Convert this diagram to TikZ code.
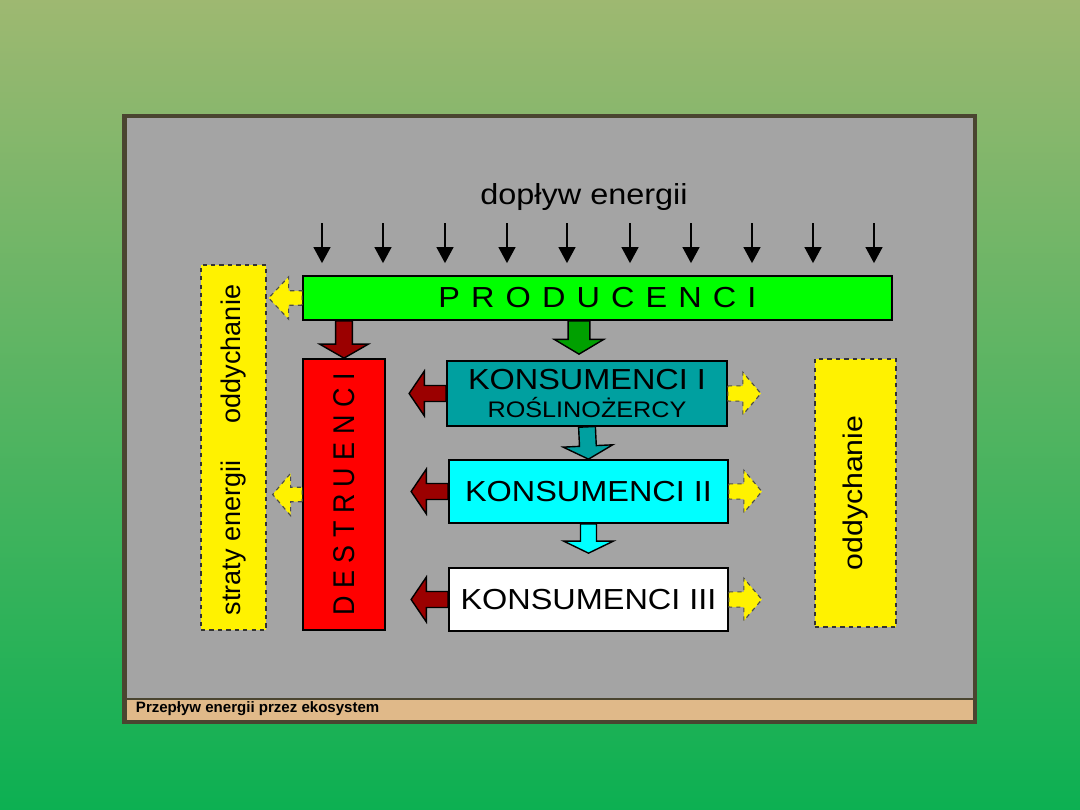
\documentclass[tikz,border=0pt]{standalone}
\usepackage{fontspec}
\setmainfont{Liberation Sans}[FakeStretch=1.12]
\newfontfamily\plainsans{Liberation Sans}
\newfontfamily\narrowsans{Liberation Sans}[FakeStretch=0.9]
\usetikzlibrary{arrows.meta, positioning, calc}
\definecolor{bgtop}{RGB}{158,184,113}
\definecolor{bgbottom}{RGB}{12,176,82}
\definecolor{frame}{RGB}{74,69,48}
\definecolor{panel}{RGB}{164,164,164}
\definecolor{captionbar}{RGB}{224,185,137}
\definecolor{prodgreen}{RGB}{0,255,0}
\definecolor{feedgreen}{RGB}{0,160,0}
\definecolor{herbteal}{RGB}{0,160,160}
\definecolor{carncyan}{RGB}{0,255,255}
\definecolor{decayred}{RGB}{155,0,0}

\tikzset{
  box/.style={draw=black, line width=1.2pt, inner sep=0pt, font=\fontsize{20.6}{24}\selectfont},
  lossbox/.style={fill=yellow, draw=black!80, dashed, line width=0.9pt, inner sep=0pt},
  sidetext/.style={rotate=90, inner sep=0pt, font=\plainsans\fontsize{19.2}{22}\selectfont},
  inflow/.style={-{Triangle[width=0.42cm, length=0.4cm]}, line width=1.3pt},
  blockarrow/.style n args={3}{to path={
    ($(\tikztostart)!#1!90:(\tikztotarget)$)
    -- ($($(\tikztotarget)!#3!(\tikztostart)$)!#1!-90:(\tikztostart)$)
    -- ($($(\tikztotarget)!#3!(\tikztostart)$)!#2!-90:(\tikztostart)$)
    -- (\tikztotarget)
    -- ($($(\tikztotarget)!#3!(\tikztostart)$)!#2!90:(\tikztostart)$)
    -- ($($(\tikztotarget)!#3!(\tikztostart)$)!#1!90:(\tikztostart)$)
    -- ($(\tikztostart)!#1!-90:(\tikztotarget)$)
    -- cycle}},
  feedarrow/.style={draw=black, line width=1pt},
  heatarrow/.style={fill=yellow, draw=black!70, dashed, line width=0.8pt}
}

\begin{document}
\begin{tikzpicture}[x=0.025cm, y=-0.025cm]
  \useasboundingbox (0,0) rectangle (1080,810);

  % slide background and panel
  \shade[top color=bgtop, bottom color=bgbottom] (0,0) rectangle (1080,810);
  \draw[frame, line width=0.11cm, fill=panel] (124.5,116) rectangle (975,722);
  \fill[captionbar] (127,699) rectangle (972.5,719.5);
  \draw[frame, line width=0.8pt] (127,699) -- (972.5,699);
  \node[anchor=west, font=\plainsans\bfseries\fontsize{10.7}{12}\selectfont] (caption) at (131,709) {Przepływ energii przez ekosystem};

  % energy input
  \node[font=\fontsize{20.6}{23}\selectfont] (inflowlabel) at (584,197) {dopływ energii};

  % levels
  \node[box, fill=prodgreen, minimum width=14.725cm, minimum height=1.1cm] (prod) at (597.5,298) {\spaceskip=7.9pt P R O D U C E N C I};
  \node[box, fill=red, minimum width=2.05cm, minimum height=6.775cm] (dest) at (344,494.5) {};
  \node[rotate=90, font=\narrowsans\fontsize{21.3}{24}\selectfont] (destlabel) at (dest.center) {D E S T R U E N C I};
  \node[box, fill=herbteal, minimum width=7cm, minimum height=1.625cm, align=center, font=\fontsize{20.6}{20.6}\selectfont] (kons1) at (587,393.5) {KONSUMENCI I\\{\fontsize{16}{20.6}\selectfont ROŚLINOŻERCY}};
  \node[box, fill=carncyan, minimum width=6.975cm, minimum height=1.575cm] (kons2) at (588.5,491.5) {KONSUMENCI II};
  \node[box, fill=white, minimum width=6.975cm, minimum height=1.575cm] (kons3) at (588.5,599.5) {KONSUMENCI III};

  % energy losses
  \node[lossbox, minimum width=1.625cm, minimum height=9.125cm] (lossL) at (233.5,447.5) {};
  \node[sidetext] (lossLtop) at (234,354) {oddychanie};
  \node[sidetext] (lossLbot) at (234,538) {straty energii};
  \node[lossbox, minimum width=2.025cm, minimum height=6.7cm] (lossR) at (855.5,493) {};
  \node[sidetext, font=\fontsize{19.2}{22}\selectfont] (lossRtext) at (lossR.center) {oddychanie};

  % sunlight arrows
  \foreach \x [count=\i] in {322,383,445,507,567,630,691,752,813,874}
    \draw[inflow] (\x,223) coordinate (sun\i) -- ($(sun\i |- prod.north)+(0,-12)$);

  % food chain
  \coordinate (greentip) at ($(kons1.north)+(-8,-6)$);
  \draw[feedarrow, fill=decayred] (prod.south -| dest.north) to[blockarrow={0.21cm}{0.61cm}{0.35cm}] (dest.north);
  \draw[feedarrow, fill=feedgreen] (prod.south -| greentip) to[blockarrow={0.27cm}{0.62cm}{0.37cm}] (greentip);
  \draw[feedarrow, fill=herbteal] (kons1.south) to[blockarrow={0.21cm}{0.62cm}{0.33cm}] (kons2.north);
  \coordinate (cyantip) at ($(kons3.north)+(0,-14)$);
  \draw[feedarrow, fill=carncyan] (kons2.south) to[blockarrow={0.2cm}{0.62cm}{0.3cm}] (cyantip);

  % dead matter and heat
  \foreach \k in {kons1,kons2,kons3} {
    \coordinate (\k dead) at ($(\k.west)+(-37,0)$);
    \coordinate (\k heat) at ($(\k.east)+(33,0)$);
    \draw[feedarrow, fill=decayred] (\k.west) to[blockarrow={0.2cm}{0.56cm}{0.38cm}] (\k dead);
    \draw[heatarrow] (\k.east) to[blockarrow={0.19cm}{0.53cm}{0.45cm}] (\k heat);
  }
  \coordinate (prodheat) at ($(lossL.east |- prod.west)+(2,0)$);
  \coordinate (destheat) at ($(lossL.east |- dest.west)+(6,0)$);
  \draw[heatarrow] (prod.west) to[blockarrow={0.18cm}{0.53cm}{0.5cm}] (prodheat);
  \draw[heatarrow] (dest.west) to[blockarrow={0.18cm}{0.53cm}{0.45cm}] (destheat);
\end{tikzpicture}
\end{document}
